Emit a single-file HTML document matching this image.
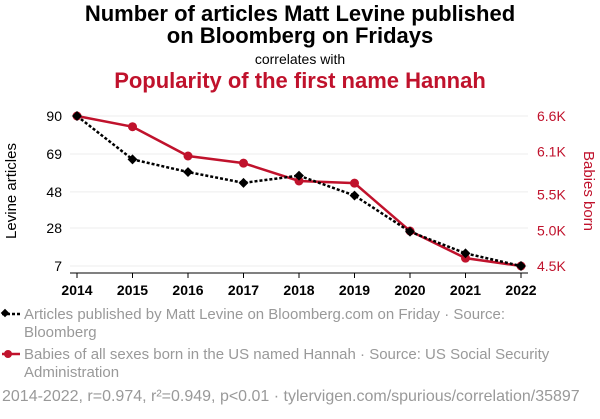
<!DOCTYPE html>
<html><head><meta charset="utf-8"><style>
body{margin:0;background:#fff;font-family:"Liberation Sans",sans-serif;}
svg text{font-family:"Liberation Sans",sans-serif;}
</style></head><body>
<svg id="c" width="600" height="414" xmlns="http://www.w3.org/2000/svg">
<text x="300" y="21" text-anchor="middle" font-size="22" font-weight="bold" fill="#000">Number of articles Matt Levine published</text>
<text x="300" y="43" text-anchor="middle" font-size="22" font-weight="bold" fill="#000">on Bloomberg on Fridays</text>
<text x="300" y="64" text-anchor="middle" font-size="14" fill="#000">correlates with</text>
<text x="300" y="88" text-anchor="middle" font-size="22" font-weight="bold" fill="#c0122c">Popularity of the first name Hannah</text>
<text transform="translate(16,191) rotate(-90)" text-anchor="middle" font-size="15" fill="#000">Levine articles</text>
<text transform="translate(584,191) rotate(90)" text-anchor="middle" font-size="15" fill="#c0122c">Babies born</text>
<g id="grid"></g><g id="axes"></g><g id="marks"></g>
<g>
<line x1="2" y1="314" x2="20" y2="314" stroke="#000" stroke-width="2.5" stroke-dasharray="3,2"/>
<rect x="2" y="310" width="6" height="6" transform="rotate(45 5 313)" fill="#000"/>
<text x="24" y="319" font-size="15" fill="#999">Articles published by Matt Levine on Bloomberg.com on Friday · Source:</text>
<text x="24" y="337" font-size="15" fill="#999">Bloomberg</text>
<line x1="2" y1="354" x2="20" y2="354" stroke="#c0122c" stroke-width="2.5"/>
<circle cx="8" cy="354" r="4" fill="#c0122c"/>
<text x="24" y="359" font-size="15" fill="#999">Babies of all sexes born in the US named Hannah · Source: US Social Security</text>
<text x="24" y="377" font-size="15" fill="#999">Administration</text>
<text x="2" y="401" font-size="16" fill="#999">2014-2022, r=0.974, r²=0.949, p&lt;0.01 · tylervigen.com/spurious/correlation/35897</text>
</g>
</svg>
<script>
const years=[2014,2015,2016,2017,2018,2019,2020,2021,2022];
const articles=[90,66,59,53,57,46,26,14,7];
const babies=[6600,6450,6040,5940,5690,5660,4990,4610,4500];
const leftTicks=[90,69,48,28,7];
const rightTicks=[6600,6100,5500,5000,4500];
const rightTickLabels=["6.6K","6.1K","5.5K","5.0K","4.5K"];
const NS="http://www.w3.org/2000/svg";
const x=v=>77+(v-2014)*(521-77)/8;
const yL=v=>266-(v-7)*(150/83);
const yR=v=>266-(v-4500)*(150/2100);
function mk(tag,attrs,parent){const e=document.createElementNS(NS,tag);for(const k in attrs)e.setAttribute(k,attrs[k]);document.getElementById(parent).appendChild(e);return e;}
leftTicks.forEach((t,i)=>{
 const g=mk('line',{x1:70,x2:528,y1:yL(t),y2:yL(t),stroke:'#eee','stroke-width':1},'grid');
 
 
 const tl=mk('text',{x:62,y:yL(t)+5,'text-anchor':'end','font-size':14,fill:'#000'},'axes');tl.textContent=t;
 
 
});
rightTicks.forEach((t,i)=>{
 const tl=mk('text',{x:537,y:yR(t)+5,'font-size':14,fill:'#c0122c'},'axes');tl.textContent=rightTickLabels[i];
 
 
});
const ax=mk('line',{x1:70,x2:528,y1:273,y2:273,stroke:'#000','stroke-width':1},'axes');


years.forEach(yr=>{
 const tk=mk('line',{x1:x(yr),x2:x(yr),y1:273,y2:278,stroke:'#000'},'axes');
 
 
 const tl=mk('text',{x:x(yr),y:295,'text-anchor':'middle','font-size':14,'font-weight':'bold',fill:'#000'},'axes');tl.textContent=yr;
 
 
});
const rp=mk('polyline',{points:years.map((yr,i)=>x(yr)+','+yR(babies[i])).join(' '),fill:'none',stroke:'#c0122c','stroke-width':2.5},'marks');


years.forEach((yr,i)=>{const c=mk('circle',{cx:x(yr),cy:yR(babies[i]),r:4.5,fill:'#c0122c'},'marks');
 
 });
const bp=mk('polyline',{points:years.map((yr,i)=>x(yr)+','+yL(articles[i])).join(' '),fill:'none',stroke:'#000','stroke-width':2.5,'stroke-dasharray':'3,2'},'marks');


years.forEach((yr,i)=>{const cx=x(yr),cy=yL(articles[i]);
 const r=mk('rect',{x:cx-3.5,y:cy-3.5,width:7,height:7,fill:'#000',transform:`rotate(45 ${cx} ${cy})`},'marks');
 
 });
</script>
</body></html>
